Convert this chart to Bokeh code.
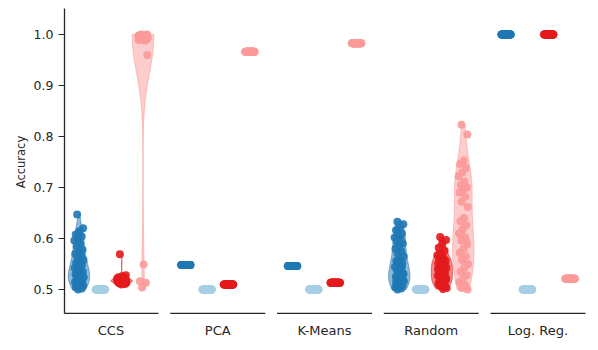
import numpy as np
from bokeh.plotting import figure
from bokeh.models import FixedTicker, Range1d, Title
from bokeh.embed import file_html
from bokeh.resources import INLINE

categories = ["CCS", "PCA", "K-Means", "Random", "Log. Reg."]
hue_colors = ["#1f78b4", "#a6cee3", "#e31a1c", "#fb9a99"]
y_ticks = [0.5, 0.6, 0.7, 0.8, 0.9, 1.0]
y_tick_labels = ["0.5", "0.6", "0.7", "0.8", "0.9", "1.0"]
y_label = "Accuracy"

# ---- CCS ----
ccs_dark = [0.647, 0.620, 0.614, 0.608, 0.604, 0.600, 0.596, 0.590, 0.585, 0.578,
            0.574, 0.570, 0.566, 0.562, 0.558, 0.555, 0.552, 0.548, 0.545, 0.542,
            0.540, 0.537, 0.535, 0.532, 0.530, 0.528, 0.526, 0.524, 0.522, 0.520,
            0.518, 0.516, 0.514, 0.512, 0.510, 0.508, 0.506, 0.504, 0.502, 0.500]
ccs_light = [0.500] * 40
ccs_red = [0.569, 0.528, 0.526, 0.524, 0.523, 0.522, 0.521, 0.521, 0.520, 0.520,
           0.519, 0.519, 0.518, 0.518, 0.518, 0.517, 0.517, 0.517, 0.516, 0.516,
           0.516, 0.515, 0.515, 0.515, 0.514, 0.514, 0.513, 0.513, 0.512, 0.512,
           0.511, 0.510, 0.519, 0.518, 0.517, 0.516, 0.520, 0.521, 0.515, 0.514]
ccs_pink = [1.000, 1.000, 0.999, 0.999, 0.998, 0.998, 0.997, 0.997, 0.996, 0.996,
            0.995, 0.995, 0.994, 0.994, 0.993, 0.993, 0.992, 0.991, 0.990, 0.989,
            0.988, 0.999, 0.998, 0.997, 0.996, 0.995, 0.994, 0.993, 0.992, 0.991,
            0.990, 0.998, 0.997, 0.996, 0.995, 0.960, 0.549, 0.516, 0.513, 0.504]

# ---- PCA ----
pca_dark = [0.548] * 40
pca_light = [0.500] * 40
pca_red = [0.510] * 40
pca_pink = [0.966] * 40

# ---- K-Means ----
km_dark = [0.546] * 40
km_light = [0.500] * 40
km_red = [0.513] * 40
km_pink = [0.983] * 40

# ---- Random ----
rnd_dark = [0.633, 0.628, 0.622, 0.616, 0.610, 0.606, 0.602, 0.598, 0.594, 0.590,
            0.585, 0.580, 0.575, 0.570, 0.565, 0.560, 0.556, 0.552, 0.548, 0.544,
            0.540, 0.536, 0.532, 0.528, 0.525, 0.522, 0.519, 0.516, 0.513, 0.510,
            0.508, 0.506, 0.504, 0.502, 0.500, 0.530, 0.520, 0.515, 0.545, 0.555]
rnd_light = [0.500] * 40
rnd_red = [0.603, 0.597, 0.590, 0.582, 0.576, 0.571, 0.567, 0.563, 0.560, 0.557,
           0.554, 0.551, 0.548, 0.545, 0.542, 0.539, 0.536, 0.533, 0.530, 0.527,
           0.524, 0.521, 0.518, 0.515, 0.512, 0.509, 0.506, 0.503, 0.501, 0.558,
           0.552, 0.546, 0.540, 0.534, 0.528, 0.522, 0.516, 0.510, 0.505, 0.562]
rnd_pink = [0.823, 0.804, 0.753, 0.746, 0.738, 0.730, 0.722, 0.712, 0.705, 0.700,
            0.695, 0.690, 0.682, 0.672, 0.662, 0.640, 0.634, 0.626, 0.618, 0.610,
            0.603, 0.596, 0.588, 0.580, 0.572, 0.565, 0.558, 0.550, 0.543, 0.535,
            0.528, 0.520, 0.514, 0.508, 0.503, 0.500, 0.700, 0.610, 0.595, 0.560]

# ---- Log. Reg. ----
lr_dark = [1.000] * 40
lr_light = [0.500] * 40
lr_red = [1.000] * 40
lr_pink = [0.521] * 40

groups = [
    [ccs_dark, ccs_light, ccs_red, ccs_pink],
    [pca_dark, pca_light, pca_red, pca_pink],
    [km_dark, km_light, km_red, km_pink],
    [rnd_dark, rnd_light, rnd_red, rnd_pink],
    [lr_dark, lr_light, lr_red, lr_pink],
]

hue_offsets = [-0.3, -0.1, 0.1, 0.3]
half_width = 0.1
jitter = 0.045
ink = "#262626"

x_start, x_end = -0.4356, 4.548
y_start, y_end = 0.449, 1.051
y_axis_bottom = 0.453

p = figure(width=598, height=348, output_backend="svg", toolbar_location=None,
           x_range=Range1d(x_start, x_end), y_range=Range1d(y_start, y_end),
           min_border_left=64, min_border_right=2, min_border_top=8,
           min_border_bottom=33)
p.outline_line_color = None
p.grid.visible = False
p.background_fill_color = "white"
p.border_fill_color = "white"

# violins
for k, hues in enumerate(groups):
    for h, vals in enumerate(hues):
        v = np.asarray(vals, dtype=float)
        xc = k + hue_offsets[h]
        col = hue_colors[h]
        if np.ptp(v) == 0:
            p.segment(x0=[xc - 0.085], x1=[xc + 0.085], y0=[v[0]], y1=[v[0]],
                      line_color=col, line_width=1, line_alpha=0.8)
            continue
        bw = v.std(ddof=1) * len(v) ** (-1 / 5)
        grid = np.linspace(v.min(), v.max(), 200)
        dens = np.exp(-0.5 * ((grid[:, None] - v[None, :]) / bw) ** 2).sum(axis=1)
        w = half_width * dens / dens.max()
        xs = np.concatenate([xc + w, (xc - w)[::-1]])
        ys = np.concatenate([grid, grid[::-1]])
        p.patch(xs, ys, fill_color=col, fill_alpha=0.5,
                line_color=col, line_alpha=0.6, line_width=1)

# strip points
for k, hues in enumerate(groups):
    for h, vals in enumerate(hues):
        v = np.asarray(vals, dtype=float)
        idx = np.arange(len(v))
        jit = (((idx * 0.6180339887 + 0.31) % 1.0) - 0.5) * 2 * jitter
        xs = k + hue_offsets[h] + jit
        p.scatter(xs, v, size=8, fill_color=hue_colors[h], fill_alpha=0.9,
                  line_color=None)

# split x-axis baseline, one segment per category
cat_idx = np.arange(len(categories))
p.segment(x0=cat_idx - 0.445, x1=cat_idx + 0.445,
          y0=[y_axis_bottom] * len(categories), y1=[y_axis_bottom] * len(categories),
          line_color=ink, line_width=1.3)

xa = p.xaxis[0]
xa.ticker = FixedTicker(ticks=list(range(len(categories))))
xa.major_label_overrides = {i: c for i, c in enumerate(categories)}
xa.axis_line_color = None
xa.major_tick_line_color = None
xa.major_tick_out = 0
xa.major_tick_in = 0
xa.minor_tick_line_color = None
xa.major_label_standoff = 7
xa.major_label_text_font = "DejaVu Sans"
xa.major_label_text_font_size = "13px"
xa.major_label_text_color = ink

ya = p.yaxis[0]
ya.ticker = FixedTicker(ticks=y_ticks)
ya.major_label_overrides = {t: l for t, l in zip(y_ticks, y_tick_labels)}
ya.bounds = (y_axis_bottom, y_end)
ya.axis_line_color = ink
ya.axis_line_width = 1.3
ya.major_tick_line_color = ink
ya.major_tick_in = 0
ya.major_tick_out = 6
ya.minor_tick_line_color = None
ya.major_label_standoff = 5
ya.major_label_text_font = "DejaVu Sans"
ya.major_label_text_font_size = "12.5px"
ya.major_label_text_color = ink

ylab = Title(text=y_label, align="center", offset=-19, standoff=6,
             text_font="DejaVu Sans", text_font_size="11.5px",
             text_font_style="normal", text_color=ink)
p.add_layout(ylab, "left")

open("out.html", "w").write(file_html(p, INLINE))
